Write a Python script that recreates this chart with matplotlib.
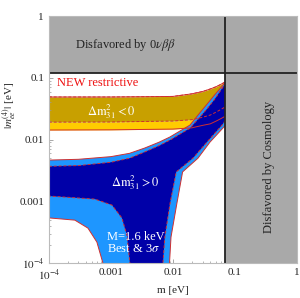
import numpy as np
import matplotlib
matplotlib.use('Agg')
import matplotlib.pyplot as plt
from matplotlib.ticker import FixedLocator, LogLocator, NullFormatter

plt.rcParams['font.family'] = ['Liberation Serif', 'DejaVu Serif']
plt.rcParams['mathtext.fontset'] = 'stix'

# limits from 0vbb and cosmology
bound_0vbb = 0.12
bound_cosmo = 0.07

# inverted hierarchy band (m, top, best-fit bottom, 3 sigma bottom)
m_ih = [1e-4, 1e-3, 1e-2, 0.02, 0.03, 0.04, 0.05, 0.06, 0.07]
ih_top = [0.049, 0.049, 0.050, 0.055, 0.060, 0.066, 0.072, 0.079, 0.086]
ih_best_low = [0.0192, 0.0193, 0.020, 0.021, 0.023, 0.025, 0.028, 0.031, 0.034]
ih_3s_low = [0.0143, 0.0144, 0.0148, 0.0155, 0.017, 0.018, 0.020, 0.022, 0.024]

# normal hierarchy region, upper edge
m_nh_up = [1e-4, 3e-4, 1e-3, 2e-3, 3.5e-3, 6e-3, 8.9e-3, 0.0188, 0.027, 0.035, 0.047, 0.064, 0.07]
nh_up_3s = [0.00466, 0.0048, 0.0053, 0.0060, 0.0073, 0.0091, 0.011, 0.0172, 0.027, 0.037, 0.053, 0.076, 0.085]
nh_up_best = [0.0037, 0.0038, 0.0043, 0.0050, 0.0063, 0.0080, 0.0098, 0.0153, 0.023, 0.031, 0.045, 0.071, 0.081]

# right (lower) edge, top to bottom
m_nh_r_3s = [0.07, 0.0395, 0.0253, 0.0143, 0.0116, 0.0093, 0.0088, 0.0086]
nh_r_3s = [0.017, 0.0091, 0.0050, 0.0030, 9.4e-4, 2.64e-4, 1e-4, 1e-5]
m_nh_r_best = [0.07, 0.062, 0.0353, 0.021, 0.0113, 0.009, 0.0074, 0.0069, 0.0067]
nh_r_best = [0.0205, 0.0172, 0.0091, 0.0050, 0.0030, 9.4e-4, 2.64e-4, 1e-4, 1e-5]

# left (lower) edge, bottom to top
m_nh_l_3s = [7.6e-4, 7.43e-4, 5.94e-4, 4.26e-4, 2.62e-4, 1e-4]
nh_l_3s = [1e-5, 1e-4, 2.19e-4, 3.69e-4, 4.97e-4, 5.4e-4]
m_nh_l_best = [2.05e-3, 2.02e-3, 1.81e-3, 1.5e-3, 1.04e-3, 5.5e-4, 1e-4]
nh_l_best = [1e-5, 1e-4, 2.84e-4, 5.4e-4, 8.7e-4, 1.09e-3, 1.22e-3]

ticks = [1e-4, 1e-3, 1e-2, 0.1, 1]
tick_labels = ['$10^{-4}$', '0.001', '0.01', '0.1', '1']

gray = '#a9a9a9'
gold = '#c8a000'
yellow = '#ffcc00'
dblue = '#0000a8'
lblue = '#1e96ff'
red = '#d03030'

fig = plt.figure(figsize=(3.0, 2.98), dpi=100)
ax = fig.add_axes([0.163, 0.117, 0.827, 0.829])
ax.set_xscale('log')
ax.set_yscale('log')
ax.set_xlim(1e-4, 1)
ax.set_ylim(1e-4, 1)

# IH band
ax.fill_between(m_ih, ih_3s_low, ih_best_low, color=yellow, lw=0, zorder=1)
ax.fill_between(m_ih, ih_best_low, ih_top, color=gold, lw=0, zorder=1)


def nh_poly(m_up, up, m_r, r, m_l, l):
    xs = list(m_up) + list(m_r) + list(m_l)
    ys = list(up) + list(r) + list(l)
    return xs, ys


xs, ys = nh_poly(m_nh_up, nh_up_3s, m_nh_r_3s, nh_r_3s, m_nh_l_3s, nh_l_3s)
ax.fill(xs, ys, color=lblue, lw=0, zorder=2)
xs, ys = nh_poly(m_nh_up, nh_up_best, m_nh_r_best, nh_r_best, m_nh_l_best, nh_l_best)
ax.fill(xs, ys, color=dblue, lw=0, zorder=3)

# boundary lines
for mx, yy in [(m_nh_up, nh_up_3s), (m_nh_r_3s, nh_r_3s), (m_nh_l_3s, nh_l_3s)]:
    ax.plot(mx, yy, color=red, lw=0.7, zorder=4)
for mx, yy in [(m_nh_up, nh_up_best), (m_nh_r_best, nh_r_best), (m_nh_l_best, nh_l_best)]:
    ax.plot(mx, yy, color=red, lw=0.7, ls=(0, (3, 2)), zorder=4)
ax.plot(m_ih, ih_top, color=red, lw=0.7, zorder=4)
ax.plot(m_ih, ih_top, color=red, lw=0.7, ls=(0, (3, 2)), zorder=4)
ax.plot(m_ih, ih_best_low, color=red, lw=0.7, ls=(0, (3, 2)), zorder=4)
ax.plot(m_ih, ih_3s_low, color=red, lw=0.7, zorder=4)

# disfavored regions
ax.axhspan(bound_0vbb, 1, color=gray, lw=0, zorder=5)
ax.axvspan(bound_cosmo, 1, color=gray, lw=0, zorder=5)
ax.axhline(bound_0vbb, color='#222222', lw=1.3, zorder=6)
ax.axvline(bound_cosmo, color='#222222', lw=1.3, zorder=6)

# texts
ax.text(1.75e-3, 0.34, r'Disfavored by 0$\nu\beta\beta$', ha='center', va='center',
        fontsize=9, color='#222222', zorder=7)
ax.text(0.36, 0.0036, 'Disfavored by Cosmology', rotation=90, ha='center', va='center',
        fontsize=9, color='#222222', zorder=7)
ax.text(1.35e-4, 0.082, 'NEW restrictive', ha='left', va='center',
        fontsize=9, color='#ee1111', zorder=7)
ax.text(1.0e-3, 0.028, r'$\Delta\mathrm{m}^2_{31} < 0$', ha='center', va='center',
        fontsize=9, color='white', zorder=7)
ax.text(2.5e-3, 0.002, r'$\Delta\mathrm{m}^2_{31} > 0$', ha='center', va='center',
        fontsize=9, color='white', zorder=7)
ax.text(8.6e-4, 2.1e-4, 'M=1.6 keV\nBest & 3$\\sigma$', ha='left', va='center',
        fontsize=9, color='white', linespacing=1.0, zorder=7)

ax.xaxis.set_major_locator(FixedLocator(ticks))
ax.yaxis.set_major_locator(FixedLocator(ticks))
ax.set_xticklabels(tick_labels)
ax.set_yticklabels(tick_labels)
for axis in (ax.xaxis, ax.yaxis):
    axis.set_minor_locator(LogLocator(base=10, subs=np.arange(2, 10)))
    axis.set_minor_formatter(NullFormatter())
ax.tick_params(which='both', direction='in', top=True, right=True, colors='#999999',
               labelcolor='#222222', labelsize=8)
ax.tick_params(which='major', length=3, width=0.6)
ax.tick_params(which='minor', length=1.5, width=0.5)
for sp in ax.spines.values():
    sp.set_color('#bbbbbb')
    sp.set_zorder(8)

ax.set_xlabel('m [eV]', fontsize=8, color='#222222', labelpad=2)
ax.set_ylabel(r'$|m_{ee}^{(4)}|$ [eV]', fontsize=8, color='#222222')
ax.yaxis.set_label_coords(-0.125, 0.64)

fig.savefig('out.png', dpi=100)
